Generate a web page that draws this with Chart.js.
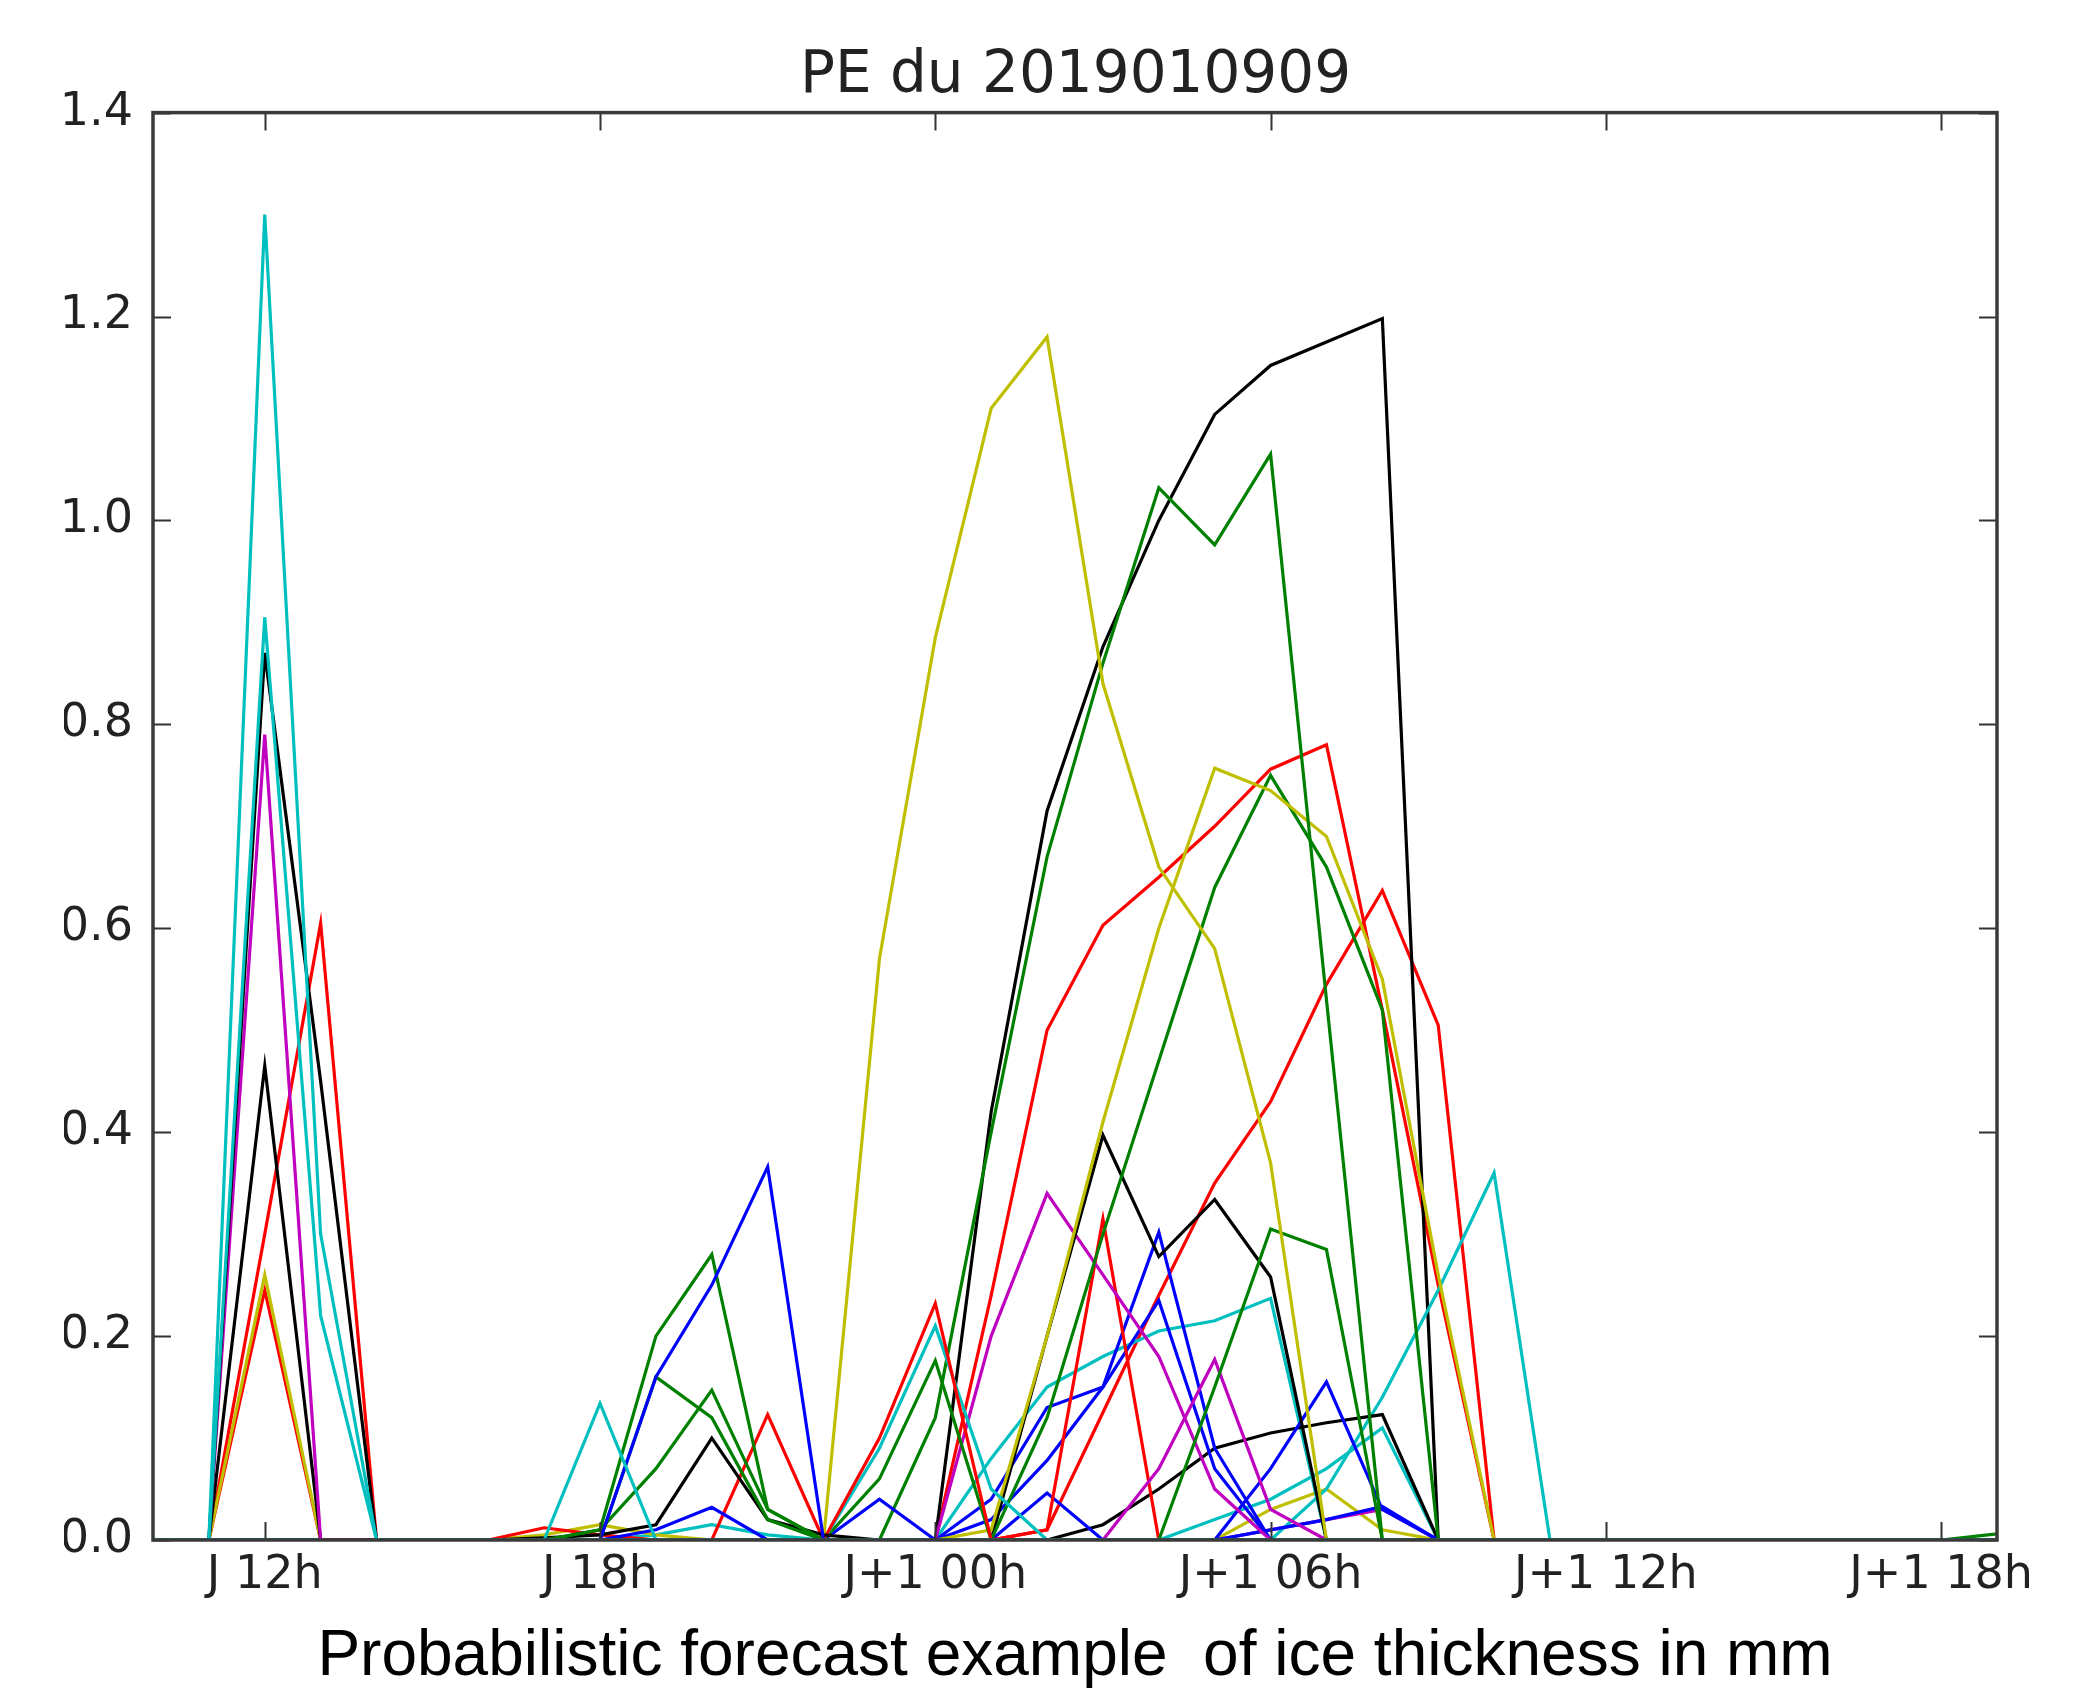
<!DOCTYPE html>
<html>
<head>
<meta charset="utf-8">
<script src="https://cdn.jsdelivr.net/npm/chart.js@4.4.1/dist/chart.umd.min.js"></script>
<style>
  html, body { margin: 0; padding: 0; background: #fff; }
  #wrap { width: 2087px; height: 1691px; }
</style>
</head>
<body>
<div id="wrap"><canvas id="pe-chart" width="2087" height="1691"></canvas></div>
<script>
// forecast hours (J 12h = 12, J+1 00h = 24 ...)
const hours = [10, 11, 12, 13, 14, 15, 16, 17, 18, 19,
               20, 21, 22, 23, 24, 25, 26, 27, 28, 29,
               30, 31, 32, 33, 34, 35, 36, 37, 38, 39,
               40, 41, 42, 43];
const xTickValues = [12, 18, 24, 30, 36, 42];
const xTickLabels = ["J 12h", "J 18h", "J+1 00h", "J+1 06h", "J+1 12h", "J+1 18h"];
const chartTitle = "PE du 2019010909";
const caption = "Probabilistic forecast example  of ice thickness in mm";

// ensemble members, ice thickness (mm), one value per hour above
// (groups of 10: h10-h19 | h20-h29 | h30-h39 | h40-h43)
const c1 = [0, 0, 1.30, 0.30, 0, 0, 0, 0, 0, 0,  0, 0, 0, 0, 0, 0, 0, 0, 0, 0,  0, 0, 0, 0, 0, 0, 0, 0, 0, 0,  0, 0, 0, 0];
const c2 = [0, 0, 0.905, 0.22, 0, 0, 0, 0, 0, 0,  0, 0, 0, 0, 0, 0, 0, 0, 0, 0,  0, 0, 0, 0, 0, 0, 0, 0, 0, 0,  0, 0, 0, 0];
const k1 = [0, 0, 0.87, 0.45, 0, 0, 0, 0, 0, 0,  0, 0, 0, 0, 0, 0, 0, 0, 0, 0,  0, 0, 0, 0, 0, 0, 0, 0, 0, 0,  0, 0, 0, 0];
const m1 = [0, 0, 0.79, 0, 0, 0, 0, 0, 0, 0,  0, 0, 0, 0, 0, 0, 0, 0, 0, 0,  0, 0, 0, 0, 0, 0, 0, 0, 0, 0,  0, 0, 0, 0];
const k2 = [0, 0, 0.465, 0, 0, 0, 0, 0, 0, 0,  0, 0, 0, 0, 0, 0, 0, 0, 0, 0,  0, 0, 0, 0, 0, 0, 0, 0, 0, 0,  0, 0, 0, 0];
const y1 = [0, 0, 0.26, 0, 0, 0, 0, 0, 0, 0,  0, 0, 0, 0, 0, 0, 0, 0, 0, 0,  0, 0, 0, 0, 0, 0, 0, 0, 0, 0,  0, 0, 0, 0];
const r1 = [0, 0, 0.245, 0, 0, 0, 0, 0, 0, 0,  0, 0, 0, 0, 0, 0, 0, 0, 0, 0,  0, 0, 0, 0, 0, 0, 0, 0, 0, 0,  0, 0, 0, 0];
const r2 = [0, 0, 0.30, 0.605, 0, 0, 0, 0, 0, 0,  0, 0, 0, 0, 0, 0, 0, 0, 0, 0,  0, 0, 0, 0, 0, 0, 0, 0, 0, 0,  0, 0, 0, 0];
const c3 = [0, 0, 0, 0, 0, 0, 0, 0, 0.134, 0,  0, 0, 0, 0, 0, 0, 0, 0, 0, 0,  0, 0, 0, 0, 0, 0, 0, 0, 0, 0,  0, 0, 0, 0];
const b1 = [0, 0, 0, 0, 0, 0, 0, 0, 0, 0.16,  0.25, 0.366, 0, 0, 0, 0, 0, 0, 0, 0,  0, 0, 0, 0, 0, 0, 0, 0, 0, 0,  0, 0, 0, 0];
const g1 = [0, 0, 0, 0, 0, 0, 0, 0, 0.01, 0.2,  0.28, 0.03, 0, 0, 0, 0, 0, 0, 0, 0,  0, 0, 0, 0, 0, 0, 0, 0, 0, 0,  0, 0, 0, 0];
const g2 = [0, 0, 0, 0, 0, 0, 0, 0, 0, 0.16,  0.12, 0.02, 0, 0, 0, 0, 0, 0, 0, 0,  0, 0, 0, 0, 0, 0, 0, 0, 0, 0,  0, 0, 0, 0];
const g3 = [0, 0, 0, 0, 0, 0, 0, 0, 0.01, 0.07,  0.147, 0.03, 0, 0, 0, 0, 0, 0, 0, 0,  0, 0, 0, 0, 0, 0, 0, 0, 0, 0,  0, 0, 0, 0];
const k3 = [0, 0, 0, 0, 0, 0, 0, 0.002, 0.005, 0.015,  0.1, 0.02, 0.005, 0, 0, 0, 0, 0, 0, 0,  0, 0, 0, 0, 0, 0, 0, 0, 0, 0,  0, 0, 0, 0];
const b2 = [0, 0, 0, 0, 0, 0, 0, 0, 0, 0.01,  0.032, 0, 0, 0, 0, 0, 0, 0, 0, 0,  0, 0, 0, 0, 0, 0, 0, 0, 0, 0,  0, 0, 0, 0];
const r3 = [0, 0, 0, 0, 0, 0, 0, 0, 0, 0,  0, 0.123, 0, 0, 0, 0, 0, 0, 0, 0,  0, 0, 0, 0, 0, 0, 0, 0, 0, 0,  0, 0, 0, 0];
const r4 = [0, 0, 0, 0, 0, 0, 0, 0.012, 0.005, 0,  0, 0, 0, 0, 0, 0, 0, 0, 0, 0,  0, 0, 0, 0, 0, 0, 0, 0, 0, 0,  0, 0, 0, 0];
const y2 = [0, 0, 0, 0, 0, 0, 0, 0.005, 0.015, 0.005,  0, 0, 0, 0, 0, 0, 0, 0, 0, 0,  0, 0, 0, 0, 0, 0, 0, 0, 0, 0,  0, 0, 0, 0];
const c4 = [0, 0, 0, 0, 0, 0, 0, 0, 0, 0.005,  0.015, 0.005, 0, 0, 0, 0, 0, 0, 0, 0,  0, 0, 0, 0, 0, 0, 0, 0, 0, 0,  0, 0, 0, 0];
const r5 = [0, 0, 0, 0, 0, 0, 0, 0, 0, 0,  0, 0, 0, 0.1, 0.232, 0, 0, 0, 0, 0,  0, 0, 0, 0, 0, 0, 0, 0, 0, 0,  0, 0, 0, 0];
const c5 = [0, 0, 0, 0, 0, 0, 0, 0, 0, 0,  0, 0, 0, 0.09, 0.21, 0.05, 0, 0, 0, 0,  0, 0, 0, 0, 0, 0, 0, 0, 0, 0,  0, 0, 0, 0];
const g4 = [0, 0, 0, 0, 0, 0, 0, 0, 0, 0,  0, 0, 0, 0.06, 0.176, 0, 0, 0, 0, 0,  0, 0, 0, 0, 0, 0, 0, 0, 0, 0,  0, 0, 0, 0];
const b3 = [0, 0, 0, 0, 0, 0, 0, 0, 0, 0,  0, 0, 0, 0.04, 0, 0, 0, 0, 0, 0,  0, 0, 0, 0, 0, 0, 0, 0, 0, 0,  0, 0, 0, 0];
const y3 = [0, 0, 0, 0, 0, 0, 0, 0, 0, 0,  0, 0, 0, 0.57, 0.885, 1.11, 1.18, 0.84, 0.66, 0.58,  0.37, 0, 0, 0, 0, 0, 0, 0, 0, 0,  0, 0, 0, 0];
const k4 = [0, 0, 0, 0, 0, 0, 0, 0, 0, 0,  0, 0, 0, 0, 0, 0.42, 0.715, 0.876, 1.0, 1.104,  1.152, 1.175, 1.198, 0, 0, 0, 0, 0, 0, 0,  0, 0, 0, 0];
const g5 = [0, 0, 0, 0, 0, 0, 0, 0, 0, 0,  0, 0, 0, 0, 0.12, 0.4, 0.67, 0.86, 1.032, 0.976,  1.065, 0.53, 0, 0, 0, 0, 0, 0, 0, 0,  0, 0, 0, 0];
const y4 = [0, 0, 0, 0, 0, 0, 0, 0, 0, 0,  0, 0, 0, 0, 0, 0.01, 0.2, 0.41, 0.6, 0.757,  0.735, 0.69, 0.55, 0.26, 0, 0, 0, 0, 0, 0,  0, 0, 0, 0];
const g6 = [0, 0, 0, 0, 0, 0, 0, 0, 0, 0,  0, 0, 0, 0, 0, 0, 0.12, 0.3, 0.47, 0.64,  0.75, 0.66, 0.52, 0, 0, 0, 0, 0, 0, 0,  0, 0, 0, 0];
const g7 = [0, 0, 0, 0, 0, 0, 0, 0, 0, 0,  0, 0, 0, 0, 0, 0, 0, 0, 0, 0.15,  0.305, 0.285, 0, 0, 0, 0, 0, 0, 0, 0,  0, 0, 0, 0];
const k5 = [0, 0, 0, 0, 0, 0, 0, 0, 0, 0,  0, 0, 0, 0, 0, 0, 0.2, 0.397, 0.278, 0.334,  0.258, 0, 0, 0, 0, 0, 0, 0, 0, 0,  0, 0, 0, 0];
const m2 = [0, 0, 0, 0, 0, 0, 0, 0, 0, 0,  0, 0, 0, 0, 0, 0.2, 0.34, 0.26, 0.18, 0.05,  0, 0, 0, 0, 0, 0, 0, 0, 0, 0,  0, 0, 0, 0];
const m3 = [0, 0, 0, 0, 0, 0, 0, 0, 0, 0,  0, 0, 0, 0, 0, 0, 0, 0, 0.07, 0.177,  0.03, 0, 0, 0, 0, 0, 0, 0, 0, 0,  0, 0, 0, 0];
const r8 = [0, 0, 0, 0, 0, 0, 0, 0, 0, 0,  0, 0, 0, 0, 0, 0, 0.01, 0.315, 0, 0,  0, 0, 0, 0, 0, 0, 0, 0, 0, 0,  0, 0, 0, 0];
const b4 = [0, 0, 0, 0, 0, 0, 0, 0, 0, 0,  0, 0, 0, 0, 0, 0.04, 0.13, 0.15, 0.302, 0.09,  0, 0, 0, 0, 0, 0, 0, 0, 0, 0,  0, 0, 0, 0];
const b5 = [0, 0, 0, 0, 0, 0, 0, 0, 0, 0,  0, 0, 0, 0, 0, 0.02, 0.078, 0.15, 0.235, 0.07,  0, 0, 0, 0, 0, 0, 0, 0, 0, 0,  0, 0, 0, 0];
const b6 = [0, 0, 0, 0, 0, 0, 0, 0, 0, 0,  0, 0, 0, 0, 0, 0, 0, 0, 0, 0,  0.07, 0.155, 0.03, 0, 0, 0, 0, 0, 0, 0,  0, 0, 0, 0];
const b7 = [0, 0, 0, 0, 0, 0, 0, 0, 0, 0,  0, 0, 0, 0, 0, 0, 0.046, 0, 0, 0,  0, 0, 0, 0, 0, 0, 0, 0, 0, 0,  0, 0, 0, 0];
const b8 = [0, 0, 0, 0, 0, 0, 0, 0, 0, 0,  0, 0, 0, 0, 0, 0, 0, 0, 0, 0,  0.01, 0.02, 0.033, 0, 0, 0, 0, 0, 0, 0,  0, 0, 0, 0];
const k6 = [0, 0, 0, 0, 0, 0, 0, 0, 0, 0,  0, 0, 0, 0, 0, 0, 0, 0.015, 0.05, 0.09,  0.105, 0.115, 0.123, 0, 0, 0, 0, 0, 0, 0,  0, 0, 0, 0];
const c6 = [0, 0, 0, 0, 0, 0, 0, 0, 0, 0,  0, 0, 0, 0, 0, 0, 0, 0, 0, 0,  0, 0.05, 0.14, 0.245, 0.36, 0, 0, 0, 0, 0,  0, 0, 0, 0];
const c7 = [0, 0, 0, 0, 0, 0, 0, 0, 0, 0,  0, 0, 0, 0, 0, 0.08, 0.15, 0.18, 0.205, 0.215,  0.237, 0, 0, 0, 0, 0, 0, 0, 0, 0,  0, 0, 0, 0];
const c8 = [0, 0, 0, 0, 0, 0, 0, 0, 0, 0,  0, 0, 0, 0, 0, 0, 0, 0, 0, 0.02,  0.04, 0.07, 0.11, 0, 0, 0, 0, 0, 0, 0,  0, 0, 0, 0];
const m4 = [0, 0, 0, 0, 0, 0, 0, 0, 0, 0,  0, 0, 0, 0, 0, 0, 0, 0, 0, 0,  0.01, 0.02, 0.03, 0, 0, 0, 0, 0, 0, 0,  0, 0, 0, 0];
const y5 = [0, 0, 0, 0, 0, 0, 0, 0, 0, 0,  0, 0, 0, 0, 0, 0, 0, 0, 0, 0,  0.03, 0.05, 0.01, 0, 0, 0, 0, 0, 0, 0,  0, 0, 0, 0];
const g8 = [0, 0, 0, 0, 0, 0, 0, 0, 0, 0,  0, 0, 0, 0, 0, 0, 0, 0, 0, 0,  0, 0, 0, 0, 0, 0, 0, 0, 0, 0,  0, 0, 0, 0.006];
const r7 = [0, 0, 0, 0, 0, 0, 0, 0, 0, 0,  0, 0, 0, 0, 0, 0, 0.01, 0.125, 0.24, 0.35,  0.43, 0.545, 0.637, 0.505, 0, 0, 0, 0, 0, 0,  0, 0, 0, 0];
const r6 = [0, 0, 0, 0, 0, 0, 0, 0, 0, 0,  0, 0, 0, 0, 0, 0.24, 0.5, 0.603, 0.65, 0.70,  0.756, 0.78, 0.52, 0.25, 0, 0, 0, 0, 0, 0,  0, 0, 0, 0];

// old matplotlib colour cycle
const BLUE = "#0000ff", GREEN = "#008000", RED = "#ff0000", CYAN = "#00bfbf",
      MAGENTA = "#bf00bf", YELLOW = "#bfbf00", BLACK = "#000000";

const members = [
    [c1, CYAN], [c2, CYAN], [k1, BLACK], [m1, MAGENTA], [k2, BLACK], [y1, YELLOW], [r1, RED], [r2, RED],
    [c3, CYAN], [b1, BLUE], [g1, GREEN], [g2, GREEN], [g3, GREEN], [k3, BLACK], [b2, BLUE], [r3, RED],
    [r4, RED], [y2, YELLOW], [c4, CYAN], [r5, RED], [c5, CYAN], [g4, GREEN], [b3, BLUE],
    [y3, YELLOW], [g5, GREEN], [y4, YELLOW], [g6, GREEN], [g7, GREEN], [k5, BLACK], [m2, MAGENTA],
    [m3, MAGENTA], [r8, RED], [b4, BLUE], [b5, BLUE], [b6, BLUE], [b7, BLUE], [b8, BLUE], [k6, BLACK],
    [c6, CYAN], [c7, CYAN], [c8, CYAN], [m4, MAGENTA], [y5, YELLOW], [g8, GREEN], [k4, BLACK], [r7, RED], [r6, RED],
];

// matplotlib-like box with inward ticks on all four sides
const framePlugin = {
    id: "frame",
    afterDatasetsDraw(chart) {
        const { ctx, chartArea: a, scales } = chart;
        const tick = 18;
        ctx.save();
        ctx.strokeStyle = "#333";
        ctx.lineWidth = 2;
        ctx.beginPath();
        scales.x.ticks.forEach(t => {
            const px = Math.round(scales.x.getPixelForValue(t.value)) + 0.5;
            ctx.moveTo(px, a.bottom); ctx.lineTo(px, a.bottom - tick);
            ctx.moveTo(px, a.top); ctx.lineTo(px, a.top + tick);
        });
        scales.y.ticks.forEach(t => {
            const py = Math.round(scales.y.getPixelForValue(t.value)) + 0.5;
            ctx.moveTo(a.left, py); ctx.lineTo(a.left + tick, py);
            ctx.moveTo(a.right, py); ctx.lineTo(a.right - tick, py);
        });
        ctx.stroke();
        ctx.lineWidth = 3.5;
        ctx.strokeStyle = "#3a3a3a";
        ctx.strokeRect(a.left, a.top, a.right - a.left, a.bottom - a.top);
        ctx.restore();
    }
};

document.addEventListener("DOMContentLoaded", () => {
    const ctx = document.getElementById("pe-chart").getContext("2d");
    new Chart(ctx, {
        type: "line",
        data: {
            datasets: members.map(([values, color]) => ({
                data: values.map((v, i) => ({ x: hours[i], y: v })),
                borderColor: color,
                borderWidth: 3.2,
                pointRadius: 0,
                fill: false,
                tension: 0,
            })),
        },
        options: {
            responsive: false,
            animation: false,
            devicePixelRatio: 1,
            layout: { padding: { left: 64, right: 0, top: 0, bottom: 0 } },
            plugins: {
                legend: { display: false },
                tooltip: { enabled: false },
                title: {
                    display: true,
                    text: chartTitle,
                    color: "#222",
                    font: { family: "DejaVu Sans", size: 58, weight: "normal" },
                    padding: { top: 42, bottom: 1 },
                },
            },
            scales: {
                x: {
                    type: "linear",
                    min: 10,
                    max: 43,
                    afterBuildTicks: scale => {
                        scale.ticks = xTickValues.map(v => ({ value: v }));
                    },
                    afterFit: scale => { scale.height = 151; },
                    grid: { display: false, drawTicks: false },
                    border: { display: false },
                    ticks: {
                        callback: (value, index) => xTickLabels[index],
                        color: "#222",
                        font: { family: "DejaVu Sans", size: 46 },
                        padding: 8,
                        maxRotation: 0,
                        autoSkip: false,
                    },
                    title: {
                        display: true,
                        text: caption,
                        color: "#000",
                        font: { family: "Liberation Sans", size: 64, lineHeight: 1.05 },
                        padding: 0,
                    },
                },
                y: {
                    min: 0,
                    max: 1.4,
                    afterFit: scale => { scale.width = 89; },
                    grid: { display: false, drawTicks: false },
                    border: { display: false },
                    ticks: {
                        stepSize: 0.2,
                        callback: v => v.toFixed(1),
                        color: "#222",
                        font: { family: "DejaVu Sans", size: 46 },
                        padding: 20,
                    },
                },
                yRight: {
                    position: "right",
                    afterFit: scale => { scale.width = 90; },
                    grid: { display: false, drawTicks: false },
                    border: { display: false },
                    ticks: { display: false },
                },
            },
        },
        plugins: [framePlugin],
    });
});
</script>
</body>
</html>
